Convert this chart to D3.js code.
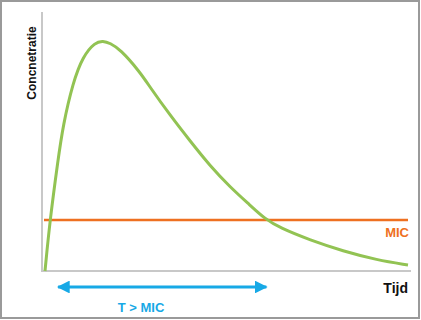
<!DOCTYPE html>
<html>
<head>
<meta charset="utf-8">
<script src="https://cdn.jsdelivr.net/npm/d3@7"></script>
<style>
  body { margin: 0; background: #fff; }
  svg { display: block; font-family: "Liberation Sans", Arial, sans-serif; }
</style>
</head>
<body>
<div id="chart"></div>
<script>
// concentration curve (time in h, concentration in % of peak)
var time = [0, 0.33, 0.86, 1.19, 1.85, 2.51, 3.31, 3.84, 4.3, 4.96, 6.28, 6.94, 8.26, 9.59, 10.91, 12.23, 13.55, 14.55, 15.54, 17.52, 19.7, 21.95, 24];
var conc = [0, 22.3, 48.5, 63.5, 82.4, 93.8, 99.9, 100.5, 99.5, 96.9, 86.9, 80.3, 68.1, 56.8, 45.9, 36.7, 28.8, 22.7, 18.8, 13.5, 8.7, 4.8, 2.6];
var mic = 22.3;
var micRange = [0.8, 14.7]; // T > MIC arrow

var width = 421,
    height = 320;

var x = d3.scaleLinear().domain([0, 24]).range([45, 408]);
var y = d3.scaleLinear().domain([0, 100]).range([271, 42]);

var svg = d3.select("#chart")
    .append("svg")
    .attr("width", width)
    .attr("height", height);

// frame
svg.append("rect")
    .attr("x", 1).attr("y", 1)
    .attr("width", 418).attr("height", 317)
    .attr("fill", "none")
    .attr("stroke", "#9a9a9a")
    .attr("stroke-width", 2);

// axes
svg.append("line")
    .attr("x1", 42).attr("x2", 42)
    .attr("y1", 12).attr("y2", y(0) + 1)
    .attr("stroke", "#c8c8c8").attr("stroke-width", 2);
svg.append("line")
    .attr("x1", 41).attr("x2", 411)
    .attr("y1", y(0)).attr("y2", y(0))
    .attr("stroke", "#c8c8c8").attr("stroke-width", 2);

// MIC line
svg.append("line")
    .attr("x1", 44).attr("x2", x(24))
    .attr("y1", y(mic)).attr("y2", y(mic))
    .attr("stroke", "#ee7021").attr("stroke-width", 2.5);

// concentration curve
var pts = time.map(function(t, i) { return [t, conc[i]]; });
var line = d3.line()
    .x(function(d) { return x(d[0]); })
    .y(function(d) { return y(d[1]); })
    .curve(d3.curveBasis);

svg.append("path")
    .datum(pts)
    .attr("d", line)
    .attr("fill", "none")
    .attr("stroke", "#92c353")
    .attr("stroke-width", 3)
    .attr("stroke-linejoin", "round");

// double arrow
var defs = svg.append("defs");
defs.append("marker")
    .attr("id", "head")
    .attr("viewBox", "0 0 10 10")
    .attr("refX", 9).attr("refY", 5)
    .attr("markerWidth", 4.3).attr("markerHeight", 4.3)
    .attr("orient", "auto-start-reverse")
    .append("path")
    .attr("d", "M0,0L10,5L0,10z")
    .attr("fill", "#17a9e6");

svg.append("line")
    .attr("x1", x(micRange[0]) + 1).attr("x2", x(micRange[1]) - 1)
    .attr("y1", 287).attr("y2", 287)
    .attr("stroke", "#17a9e6").attr("stroke-width", 3)
    .attr("marker-start", "url(#head)")
    .attr("marker-end", "url(#head)");

// labels
svg.append("text")
    .attr("x", 141).attr("y", 312)
    .attr("text-anchor", "middle")
    .attr("font-size", 13).attr("font-weight", "bold")
    .attr("fill", "#17a9e6")
    .text("T > MIC");

svg.append("text")
    .attr("x", 409).attr("y", 237)
    .attr("text-anchor", "end")
    .attr("font-size", 13).attr("font-weight", "bold")
    .attr("fill", "#ee7021")
    .text("MIC");

svg.append("text")
    .attr("x", 408).attr("y", 293)
    .attr("text-anchor", "end")
    .attr("font-size", 14).attr("font-weight", "bold")
    .attr("fill", "#111")
    .text("Tijd");

svg.append("text")
    .attr("transform", "translate(36,63)rotate(-90)")
    .attr("text-anchor", "middle")
    .attr("font-size", 12).attr("font-weight", "bold")
    .attr("fill", "#111")
    .text("Concnetratie");
</script>
</body>
</html>
